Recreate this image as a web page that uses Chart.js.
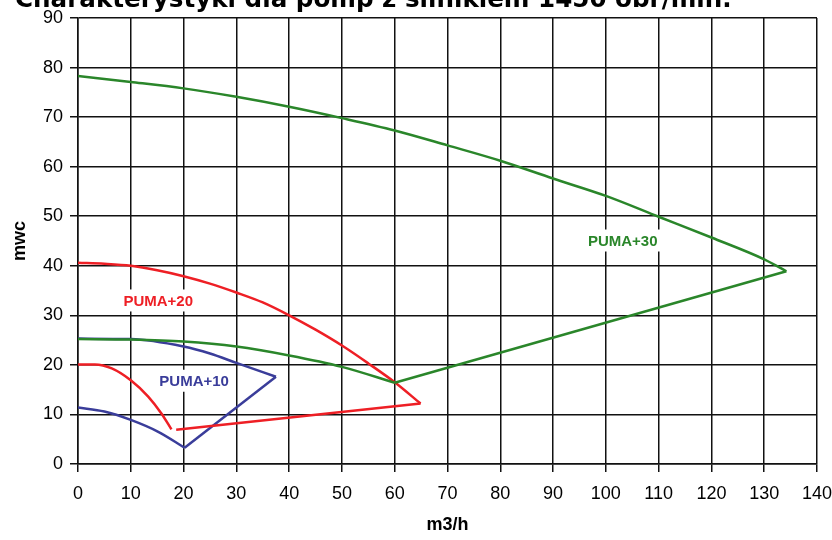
<!DOCTYPE html>
<html>
<head>
<meta charset="utf-8">
<script src="https://cdn.jsdelivr.net/npm/chart.js@4"></script>
<style>
  body { margin: 0; background: #fff; overflow: hidden; }
  #wrap { position: relative; width: 832px; height: 540px; overflow: hidden; }
  #title { position: absolute; left: 15px; top: -14px; font: bold 24.6px 'DejaVu Sans'; line-height: 25px; white-space: nowrap; color: #000; }
  canvas { position: absolute; left: 0; top: 0; }
</style>
</head>
<body>
<div id="wrap">
  <canvas id="chart" width="832" height="540"></canvas>
  <div id="title">Charakterystyki dla pomp z silnikiem 1450 obr/min.</div>
</div>
<script>
// x = m3/h, y = mwc (kazda krzywa rosnaco po x)
const p30TopX = [0, 10, 20, 30, 40, 50, 60, 70, 80, 90, 100, 110, 120, 130, 134.2];
const p30TopY = [78.3, 77.1, 75.8, 74.1, 72.1, 69.8, 67.3, 64.3, 61.2, 57.6, 54.1, 49.9, 45.7, 41.3, 38.9];
const p30LinkX = [60, 134.2];
const p30LinkY = [16.4, 38.9];
const p30BotX = [0, 10, 20, 30, 40, 50, 60];
const p30BotY = [25.2, 25.1, 24.7, 23.7, 21.9, 19.6, 16.4];

const p20TopX = [0, 5, 10, 15, 20, 25, 30, 35, 40, 45, 50, 55, 60, 64.9];
const p20TopY = [40.6, 40.4, 40.0, 39.1, 37.9, 36.4, 34.6, 32.6, 30.0, 27.1, 23.9, 20.3, 16.5, 12.2];
const p20LinkX = [18.6, 64.9];
const p20LinkY = [6.9, 12.2];
const p20BotX = [0, 3.2, 6.4, 10, 13.3, 15.8, 17.7];
const p20BotY = [20.1, 20.1, 19.3, 16.9, 13.6, 10.2, 7.0];

const p10TopX = [0, 10, 20, 25, 30, 37.5];
const p10TopY = [25.3, 25.2, 23.7, 22.3, 20.4, 17.6];
const p10LinkX = [20.2, 37.5];
const p10LinkY = [3.3, 17.6];
const p10BotX = [0, 5, 10, 15.2, 20.2];
const p10BotY = [11.4, 10.6, 8.9, 6.5, 3.3];

const labelText = ['PUMA+30', 'PUMA+20', 'PUMA+10'];
const labelX = [103.2, 15.2, 22];
const labelY = [45.1, 33, 16.8];

const xTitle = 'm3/h';
const yTitle = 'mwc';

const GREEN = '#2a862a';
const RED = '#ee1f25';
const BLUE = '#3a3d9a';
const labelColors = [GREEN, RED, BLUE];

function pts(xs, ys) {
    return xs.map((x, i) => ({ x: x, y: ys[i] }));
}

function curve(xs, ys, color, smooth) {
    return {
        data: pts(xs, ys),
        borderColor: color,
        borderWidth: 2.5,
        showLine: true,
        pointRadius: 0,
        cubicInterpolationMode: smooth ? 'monotone' : 'default',
        tension: 0,
        fill: false
    };
}

// etykiety pomp z bialym tlem
const labelPlugin = {
    id: 'pumpLabels',
    afterDatasetsDraw(chart) {
        const ctx = chart.ctx;
        const xs = chart.scales.x;
        const ys = chart.scales.y;
        ctx.save();
        ctx.font = "bold 15px 'Liberation Sans', Arial, sans-serif";
        ctx.textAlign = 'center';
        ctx.textBaseline = 'middle';
        labelText.forEach((t, i) => {
            const px = xs.getPixelForValue(labelX[i]);
            const py = ys.getPixelForValue(labelY[i]);
            const w = ctx.measureText(t).width;
            ctx.fillStyle = '#fff';
            ctx.fillRect(px - w / 2 - 4, py - 11, w + 8, 22);
            ctx.fillStyle = labelColors[i];
            ctx.fillText(t, px, py + 1);
        });
        ctx.restore();
    }
};

const ctx = document.getElementById('chart').getContext('2d');
new Chart(ctx, {
    type: 'scatter',
    data: {
        datasets: [
            curve(p30TopX, p30TopY, GREEN, true),
            curve(p30LinkX, p30LinkY, GREEN, false),
            curve(p30BotX, p30BotY, GREEN, true),
            curve(p20TopX, p20TopY, RED, true),
            curve(p20LinkX, p20LinkY, RED, false),
            curve(p20BotX, p20BotY, RED, true),
            curve(p10TopX, p10TopY, BLUE, true),
            curve(p10LinkX, p10LinkY, BLUE, false),
            curve(p10BotX, p10BotY, BLUE, true)
        ]
    },
    options: {
        responsive: false,
        animation: false,
        events: [],
        layout: { padding: { left: 0, right: 15, top: 18, bottom: 0 } },
        plugins: {
            legend: { display: false },
            tooltip: { enabled: false }
        },
        scales: {
            x: {
                type: 'linear',
                min: 0,
                max: 140,
                afterFit: (scale) => {
                    scale.height = 76;
                    scale.paddingRight = 0;
                    scale.paddingLeft = 0;
                },
                grid: { color: '#111', lineWidth: 1.5, tickLength: 8, drawTicks: true },
                border: { color: '#111', width: 1.5 },
                ticks: {
                    stepSize: 10,
                    padding: 11,
                    color: '#000',
                    maxRotation: 0,
                    font: { family: "'Liberation Sans', Arial, sans-serif", size: 18 }
                },
                title: {
                    display: true,
                    text: xTitle,
                    color: '#000',
                    padding: { top: 0, bottom: 4 },
                    font: { family: "'Liberation Sans', Arial, sans-serif", size: 18, weight: 'bold' }
                }
            },
            y: {
                type: 'linear',
                min: 0,
                max: 90,
                afterFit: (scale) => {
                    scale.width = 78;
                    scale.paddingTop = 0;
                    scale.paddingBottom = 0;
                },
                grid: { color: '#111', lineWidth: 1.5, tickLength: 8 },
                border: { color: '#111', width: 1.5 },
                ticks: {
                    stepSize: 10,
                    padding: 7,
                    color: '#000',
                    font: { family: "'Liberation Sans', Arial, sans-serif", size: 18 }
                },
                title: {
                    display: true,
                    text: yTitle,
                    color: '#000',
                    padding: { top: 9, bottom: 0 },
                    font: { family: "'Liberation Sans', Arial, sans-serif", size: 18, weight: 'bold' }
                }
            }
        }
    },
    plugins: [labelPlugin]
});
</script>
</body>
</html>
